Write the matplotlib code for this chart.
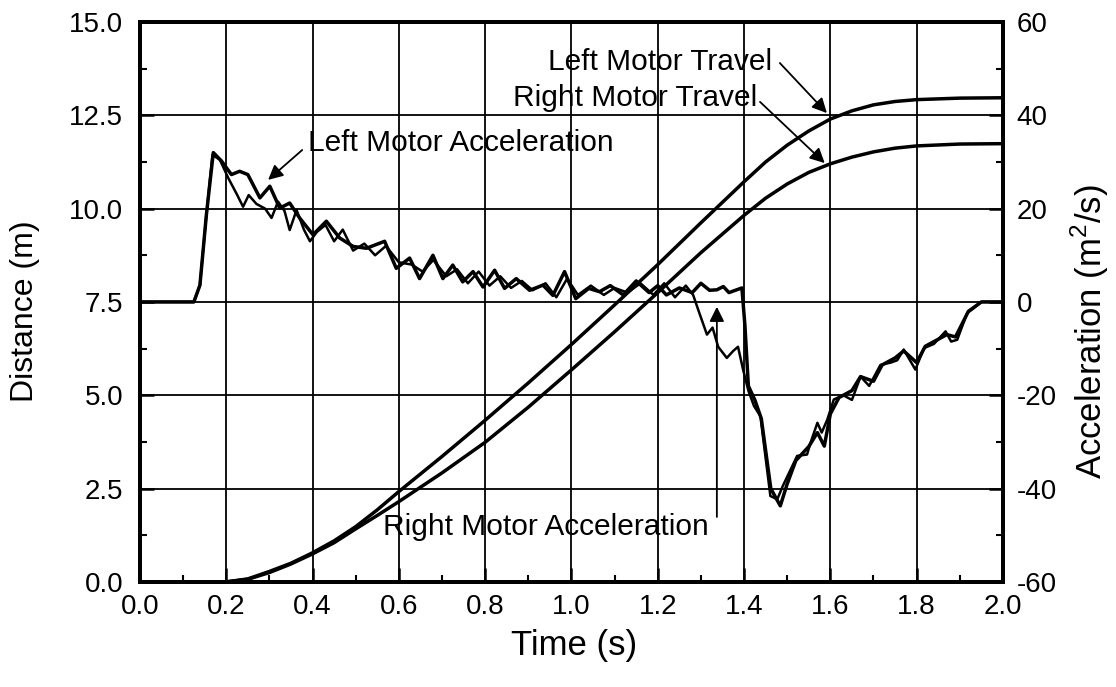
import numpy as np
import matplotlib
matplotlib.use("Agg")
import matplotlib.pyplot as plt
from matplotlib.ticker import MultipleLocator, FormatStrFormatter

plt.rcParams["font.family"] = ["Liberation Sans", "DejaVu Sans"]
plt.rcParams["mathtext.fontset"] = "custom"
plt.rcParams["mathtext.rm"] = "Liberation Sans"
plt.rcParams["axes.unicode_minus"] = False

# travel (m)
travel_t = [0.15, 0.20, 0.25, 0.30, 0.35, 0.40, 0.45, 0.50, 0.55, 0.60,
            0.70, 0.80, 0.90, 1.00, 1.10, 1.20, 1.30, 1.40, 1.45, 1.50,
            1.55, 1.60, 1.65, 1.70, 1.75, 1.80, 1.90, 2.00]
left_travel = [0.0, 0.0, 0.08, 0.28, 0.50, 0.78, 1.10, 1.48, 1.93, 2.42,
               3.36, 4.33, 5.33, 6.36, 7.42, 8.50, 9.62, 10.72, 11.25, 11.70,
               12.08, 12.40, 12.62, 12.78, 12.87, 12.92, 12.96, 12.97]
right_travel = [0.0, 0.0, 0.07, 0.25, 0.48, 0.75, 1.05, 1.42, 1.78, 2.15,
                2.92, 3.74, 4.68, 5.68, 6.70, 7.75, 8.82, 9.82, 10.28, 10.66,
                10.97, 11.20, 11.38, 11.52, 11.62, 11.68, 11.73, 11.74]

# acceleration
left_acc_t = [0.000, 0.125, 0.139, 0.154, 0.170, 0.189, 0.212, 0.231, 0.250, 0.278,
              0.301, 0.324, 0.347, 0.370, 0.401, 0.432, 0.463, 0.494, 0.525, 0.567,
              0.594, 0.625, 0.648, 0.679, 0.702, 0.725, 0.748, 0.772, 0.795, 0.822,
              0.845, 0.872, 0.903, 0.934, 0.957, 0.984, 1.010, 1.040, 1.065, 1.090,
              1.120, 1.150, 1.180, 1.200, 1.220, 1.250, 1.280, 1.300, 1.320, 1.337,
              1.352, 1.365, 1.380, 1.395, 1.402, 1.410, 1.425, 1.440, 1.462, 1.484,
              1.500, 1.520, 1.550, 1.570, 1.586, 1.600, 1.620, 1.650, 1.670, 1.700,
              1.720, 1.750, 1.770, 1.800, 1.820, 1.850, 1.870, 1.890, 1.920, 1.950,
              2.000]
left_acc = [0.0, 0.0, 3.6, 18.7, 32.0, 30.2, 27.3, 28.0, 27.3, 22.3,
            24.8, 20.1, 21.2, 18.0, 14.4, 17.3, 13.7, 11.9, 11.5, 13.0,
            7.2, 9.4, 5.0, 10.0, 5.0, 7.9, 4.3, 6.5, 3.2, 6.8,
            2.9, 5.0, 2.5, 3.6, 1.4, 6.5, 0.7, 2.9, 2.2, 3.5,
            1.5, 4.5, 2.0, 3.5, 1.5, 3.0, 2.0, 4.0, 2.5, 2.6,
            3.3, 2.0, 2.5, 3.0, -5.0, -18.0, -21.0, -25.0, -40.0, -43.7,
            -39.0, -34.0, -31.0, -28.0, -30.9, -24.0, -20.5, -19.0, -16.0, -17.0,
            -13.5, -12.0, -10.5, -13.0, -9.5, -8.0, -7.0, -7.5, -2.0, 0.0,
            0.0]

right_acc_t = [0.000, 0.125, 0.139, 0.154, 0.168, 0.185, 0.205, 0.225, 0.239, 0.252,
               0.270, 0.290, 0.305, 0.320, 0.335, 0.347, 0.363, 0.380, 0.394, 0.410,
               0.430, 0.450, 0.470, 0.494, 0.520, 0.545, 0.570, 0.600, 0.630, 0.655,
               0.680, 0.710, 0.735, 0.760, 0.785, 0.810, 0.835, 0.860, 0.885, 0.910,
               0.940, 0.965, 0.990, 1.015, 1.045, 1.075, 1.100, 1.130, 1.160, 1.190,
               1.215, 1.240, 1.265, 1.282, 1.295, 1.314, 1.327, 1.340, 1.360, 1.375,
               1.386, 1.398, 1.410, 1.423, 1.438, 1.461, 1.477, 1.490, 1.523, 1.546,
               1.554, 1.570, 1.580, 1.593, 1.608, 1.630, 1.650, 1.670, 1.690, 1.716,
               1.740, 1.755, 1.770, 1.797, 1.817, 1.840, 1.867, 1.880, 1.894, 1.917,
               1.930, 1.950, 2.000]
right_acc = [0.0, 0.0, 3.6, 18.7, 31.5, 30.5, 26.5, 23.0, 20.4, 22.9,
             21.0, 20.0, 18.0, 21.5, 19.5, 15.4, 19.7, 15.5, 13.0, 15.0,
             16.5, 13.0, 15.5, 11.0, 12.5, 10.0, 12.0, 8.5, 8.0, 6.5,
             9.0, 5.5, 7.0, 4.0, 6.5, 3.5, 5.5, 3.0, 4.5, 2.5,
             4.0, 1.0, 5.0, 1.5, 3.5, 1.5, 3.0, 2.0, 4.0, 1.5,
             4.0, 1.0, 3.5, 1.5, -2.0, -7.0, -5.5, -9.6, -12.0, -10.5,
             -9.6, -14.6, -19.0, -22.3, -24.5, -41.6, -42.3, -39.4, -33.0, -32.7,
             -30.2, -25.9, -28.0, -25.2, -20.9, -20.0, -21.0, -16.0, -18.0, -13.5,
             -13.0, -12.5, -10.2, -14.5, -9.9, -9.0, -6.3, -8.5, -8.1, -2.4,
             -1.5, 0.0, 0.0]

fig, ax = plt.subplots(figsize=(11.16, 6.87), dpi=100)
fig.subplots_adjust(left=0.1254, right=0.8987, top=0.968, bottom=0.153)
ax2 = ax.twinx()

ax.plot(travel_t, left_travel, color="k", lw=2.5, solid_capstyle="butt")
ax.plot(travel_t, right_travel, color="k", lw=2.5, solid_capstyle="butt")
ax2.plot(left_acc_t, left_acc, color="k", lw=2.5)
ax2.plot(right_acc_t, right_acc, color="k", lw=1.8)

ax.set_xlim(0, 2.0)
ax.set_ylim(0, 15)
ax2.set_ylim(-60, 60)

ax.xaxis.set_major_locator(MultipleLocator(0.2))
ax.xaxis.set_minor_locator(MultipleLocator(0.1))
ax.yaxis.set_major_locator(MultipleLocator(2.5))
ax.yaxis.set_minor_locator(MultipleLocator(1.25))
ax2.yaxis.set_major_locator(MultipleLocator(20))
ax2.yaxis.set_minor_locator(MultipleLocator(10))
ax.xaxis.set_major_formatter(FormatStrFormatter("%.1f"))
ax.yaxis.set_major_formatter(FormatStrFormatter("%.1f"))

ax.grid(True, which="major", color="k", lw=1.3)
ax.set_axisbelow(True)

for a in (ax, ax2):
    a.tick_params(which="major", direction="in", length=10, width=1.8, labelsize=20)
    a.tick_params(which="minor", direction="in", length=5, width=1.5)
    for s in a.spines.values():
        s.set_linewidth(2.8)
ax.tick_params(axis="x", which="major", pad=9)
ax.tick_params(axis="y", which="major", pad=12)
ax2.tick_params(axis="y", which="major", pad=10)
ax.tick_params(top=False, right=False, which="both")

fig.text(25 / 1116, 0.547, "Distance (m)", rotation=90, ha="center", va="center", fontsize=23)
fig.text(0.977, 0.517, "Acceleration (m$^2$/s)", rotation=90, ha="center", va="center", fontsize=25)
fig.text(0.514, 0.061, "Time (s)", ha="center", va="center", fontsize=25)

note_size = 21.5
arrow = dict(arrowstyle="-|>", color="k", lw=1.3, mutation_scale=22, shrinkA=0, shrinkB=0)
ax2.text(0.389, 11.76, "Left Motor Acceleration", transform=ax.transData,
         ha="left", va="center", fontsize=note_size)
ax2.annotate("", xy=(0.297, 10.77), xytext=(0.376, 11.57),
             xycoords=ax.transData, textcoords=ax.transData, arrowprops=arrow)
ax2.text(1.465, 13.93, "Left Motor Travel", transform=ax.transData,
         ha="right", va="center", fontsize=note_size)
ax2.annotate("", xy=(1.592, 12.56), xytext=(1.483, 13.9),
             xycoords=ax.transData, textcoords=ax.transData, arrowprops=arrow)
ax2.text(1.430, 12.97, "Right Motor Travel", transform=ax.transData,
         ha="right", va="center", fontsize=note_size)
ax2.annotate("", xy=(1.587, 11.22), xytext=(1.437, 12.86),
             xycoords=ax.transData, textcoords=ax.transData, arrowprops=arrow)
ax2.text(0.563, 1.47, "Right Motor Acceleration", transform=ax.transData,
         ha="left", va="center", fontsize=note_size)
ax2.annotate("", xy=(1.337, 7.37), xytext=(1.337, 1.74),
             xycoords=ax.transData, textcoords=ax.transData, arrowprops=arrow)

fig.savefig("out.png", dpi=100)
